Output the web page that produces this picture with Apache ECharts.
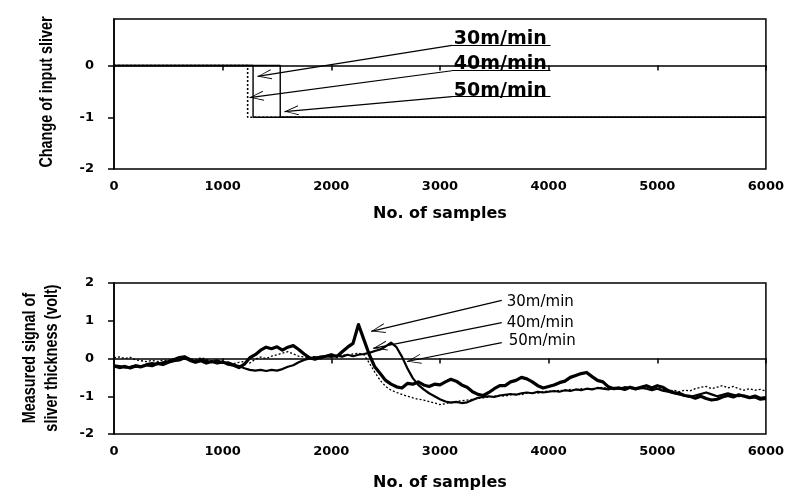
<!DOCTYPE html>
<html lang="en">

<head>
    <meta charset="UTF-8">
    <title>Sliver input change and measured signal</title>
</head>
<style>
    * {
        padding: 0;
        margin: 0;
    }

    .box {
        width: 787px;
        height: 495px;
    }
</style>

<body>
    <div class="box" id='myChart'></div>
    <script src="https://cdn.jsdelivr.net/npm/echarts@6/dist/echarts.min.js"></script>
    <script>
        // ---- data ----
        const speeds = ["30m/min", "40m/min", "50m/min"];
        const xTicks = [0, 1000, 2000, 3000, 4000, 5000, 6000];

        // upper chart: step change of input sliver
        const stepAt = [1230, 1280, 1530];
        const levelBefore = 0;
        const levelAfter = -1;

        // lower chart: measured signal (volt), one reading every 50 samples
        const sampleStep = 50;
        const signal30 = [
            -0.20, -0.24, -0.21, -0.25, -0.20, -0.22, -0.17, -0.19, -0.13, -0.16,
            -0.10, -0.06, -0.04, 0.02, -0.05, -0.10, -0.06, -0.12, -0.08, -0.12,
            -0.09, -0.15, -0.18, -0.24, -0.15, 0.02, 0.10, 0.22, 0.30, 0.26,
            0.31, 0.22, 0.30, 0.34, 0.24, 0.12, 0.02, -0.02, 0.04, 0.06,
            0.10, 0.05, 0.18, 0.30, 0.40, 0.90, 0.50, 0.10, -0.22, -0.40,
            -0.58, -0.68, -0.75, -0.78, -0.66, -0.68, -0.62, -0.70, -0.74, -0.68,
            -0.70, -0.62, -0.55, -0.60, -0.70, -0.76, -0.88, -0.95, -0.98, -0.90,
            -0.80, -0.72, -0.72, -0.62, -0.58, -0.50, -0.54, -0.62, -0.72, -0.78,
            -0.74, -0.70, -0.64, -0.60, -0.50, -0.45, -0.40, -0.37, -0.48, -0.58,
            -0.62, -0.75, -0.80, -0.78, -0.82, -0.76, -0.80, -0.76, -0.72, -0.78,
            -0.72, -0.76, -0.85, -0.90, -0.92, -0.98, -1.00, -1.05, -1.00, -1.06,
            -1.10, -1.08, -1.02, -0.98, -1.02, -0.96, -1.00, -1.04, -1.02, -1.08,
            -1.06
        ];
        const signal40 = [
            0.02, 0.04, 0.00, 0.03, -0.04, -0.06, -0.08, -0.05, -0.08, -0.04,
            -0.06, 0.00, 0.02, 0.06, 0.00, -0.04, 0.02, -0.02, -0.06, -0.04,
            -0.08, -0.12, -0.14, -0.10, -0.08, -0.12, -0.02, 0.04, 0.00, 0.06,
            0.10, 0.14, 0.18, 0.12, 0.06, 0.04, 0.00, 0.06, 0.02, 0.08,
            0.04, 0.06, 0.10, 0.08, 0.12, 0.14, 0.10, -0.12, -0.36, -0.58,
            -0.74, -0.84, -0.90, -0.95, -1.00, -1.04, -1.08, -1.10, -1.14, -1.18,
            -1.22, -1.20, -1.16, -1.14, -1.12, -1.10, -1.08, -1.06, -1.04, -1.02,
            -1.00, -0.98, -1.00, -0.96, -0.94, -0.96, -0.92, -0.90, -0.92, -0.88,
            -0.86, -0.88, -0.84, -0.86, -0.82, -0.84, -0.80, -0.82, -0.80, -0.78,
            -0.76, -0.80, -0.78, -0.82, -0.80, -0.76, -0.78, -0.80, -0.76, -0.80,
            -0.78, -0.82, -0.86, -0.84, -0.88, -0.84, -0.86, -0.80, -0.76, -0.74,
            -0.80, -0.76, -0.72, -0.78, -0.74, -0.80, -0.84, -0.80, -0.84, -0.82,
            -0.86
        ];
        const signal50 = [
            -0.18, -0.20, -0.24, -0.22, -0.18, -0.21, -0.15, -0.12, -0.15, -0.10,
            -0.07, -0.02, 0.04, 0.06, -0.02, -0.08, -0.02, -0.06, -0.10, -0.05,
            -0.12, -0.10, -0.16, -0.20, -0.26, -0.30, -0.32, -0.30, -0.33, -0.30,
            -0.32, -0.28, -0.22, -0.18, -0.10, -0.04, 0.00, 0.04, 0.00, 0.06,
            0.04, 0.08, 0.05, 0.10, 0.06, 0.10, 0.12, 0.15, 0.20, 0.24,
            0.32, 0.42, 0.30, 0.05, -0.26, -0.52, -0.70, -0.82, -0.92, -1.00,
            -1.08, -1.14, -1.17, -1.15, -1.18, -1.16, -1.10, -1.04, -1.02, -1.00,
            -1.02, -0.98, -0.96, -0.94, -0.96, -0.92, -0.90, -0.92, -0.88, -0.90,
            -0.88, -0.86, -0.88, -0.84, -0.86, -0.82, -0.84, -0.80, -0.82, -0.78,
            -0.80, -0.82, -0.78, -0.80, -0.76, -0.78, -0.82, -0.78, -0.80, -0.84,
            -0.80, -0.85, -0.88, -0.92, -0.95, -0.98, -1.02, -0.98, -0.94, -0.90,
            -0.95, -1.00, -0.96, -0.92, -0.96, -1.00, -0.98, -1.02, -0.98, -1.04,
            -1.02
        ];

        // annotation arrows, in data units: label anchor, arrow start, arrow tip
        const topLabelAt = [[3128, 0.33], [3128, -0.16], [3128, -0.67]];
        const topArrowFrom = [[3110, 0.39], [3110, -0.10], [3110, -0.60]];
        const topArrowTo = [[1321, -0.21], [1248, -0.62], [1569, -0.89]];
        const topUnderlineEnd = 4018;
        const lowLabelAt = [[3615, 1.49], [3615, 0.95], [3633, 0.45]];
        const lowArrowFrom = [[3569, 1.54], [3569, 0.95], [3569, 0.42]];
        const lowArrowTo = [[2367, 0.72], [2385, 0.27], [2697, -0.08]];

        // ---- chart ----
        const tickFont = { color: "#000", fontFamily: "DejaVu Sans", fontSize: 13, fontWeight: "bold" };
        const titleFont = { color: "#000", fontFamily: "DejaVu Sans", fontSize: 16, fontWeight: "bold" };
        // open V arrow head, tip at the centre of its box
        const arrowHead = "path://M5,0L5.01,0L5,0.01Z M5,14L10,28L9,28L5,16L1,28L0,28Z";

        function xAxisFor(gridIndex, gap) {
            return {
                type: "value",
                gridIndex: gridIndex,
                min: xTicks[0],
                max: xTicks[xTicks.length - 1],
                interval: xTicks[1] - xTicks[0],
                name: "No. of samples",
                nameLocation: "middle",
                nameGap: gap,
                nameTextStyle: titleFont,
                axisLine: { lineStyle: { color: "#000", width: 1.5 } },
                axisTick: { length: 5, lineStyle: { color: "#000", width: 1.5 } },
                axisLabel: Object.assign({ margin: 11, formatter: function (v) { return String(v); } }, tickFont),
                splitLine: { show: false }
            };
        }

        function yAxisFor(gridIndex, min, max, hideMax) {
            return {
                type: "value",
                gridIndex: gridIndex,
                min: min,
                max: max,
                interval: 1,
                axisLine: { show: true, lineStyle: { color: "#000", width: 1.5 } },
                axisTick: { show: true, length: 6, lineStyle: { color: "#000", width: 1.5 } },
                axisLabel: Object.assign({ margin: 20, showMaxLabel: !hideMax }, tickFont),
                splitLine: { show: false }
            };
        }

        // narrow bold y titles (no condensed font installed, so squeeze a normal one)
        function yTitle(text, x, y) {
            return {
                type: "text",
                x: x,
                y: y,
                rotation: Math.PI / 2,
                scaleX: 0.8,
                silent: true,
                style: {
                    text: text,
                    fill: "#000",
                    font: "bold 18px 'Liberation Sans'",
                    lineHeight: 22,
                    align: "center",
                    verticalAlign: "middle"
                }
            };
        }

        function arrows(from, to, labels, under, fontStyle) {
            const lines = [];
            from.forEach(function (p, i) {
                lines.push([{ coord: p, symbol: "none" }, { coord: to[i], symbol: arrowHead }]);
                if (under) {
                    lines.push([{ coord: p, symbol: "none" }, { coord: [under, p[1]], symbol: "none" }]);
                }
            });
            return {
                markLine: {
                    silent: true,
                    animation: false,
                    symbolSize: [10, 28],
                    label: { show: false },
                    lineStyle: { color: "#000", width: 1.2, type: "solid" },
                    emphasis: { disabled: true },
                    data: lines
                },
                markPoint: {
                    silent: true,
                    animation: false,
                    symbol: "circle",
                    symbolSize: 0,
                    data: labels.map(function (p, i) {
                        return {
                            coord: p,
                            label: Object.assign({
                                show: true,
                                formatter: speeds[i],
                                position: [0, 0],
                                align: "left",
                                verticalAlign: under ? "bottom" : "middle"
                            }, fontStyle)
                        };
                    })
                }
            };
        }

        function stepSeries(i) {
            const s = stepAt[i];
            const styles = [
                { color: "#000", width: 1.6, type: [2, 2] },
                { color: "#000", width: 1.4, type: "solid" },
                { color: "#000", width: 1.4, type: "solid" }
            ];
            const series = {
                name: speeds[i],
                type: "line",
                xAxisIndex: 0,
                yAxisIndex: 0,
                showSymbol: false,
                symbol: "none",
                lineStyle: styles[i],
                data: [[xTicks[0], levelBefore], [s, levelBefore], [s, levelAfter], [xTicks[xTicks.length - 1], levelAfter]]
            };
            if (i === 0) {
                Object.assign(series, arrows(topArrowFrom, topArrowTo, topLabelAt, topUnderlineEnd,
                    { color: "#000", fontFamily: "DejaVu Sans", fontSize: 19, fontWeight: "bold" }));
            }
            return series;
        }

        function signalSeries(name, values, style) {
            return {
                name: name,
                type: "line",
                xAxisIndex: 1,
                yAxisIndex: 1,
                showSymbol: false,
                symbol: "none",
                lineStyle: style,
                data: values.map(function (v, i) { return [i * sampleStep, v]; })
            };
        }

        const lower30 = signalSeries(speeds[0], signal30, { color: "#000", width: 3.2, join: "round" });
        Object.assign(lower30, arrows(lowArrowFrom, lowArrowTo, lowLabelAt, null,
            { color: "#000", fontFamily: "DejaVu Sans", fontSize: 15 }));

        let myChart = echarts.init(document.getElementById('myChart'));
        let option = {
            backgroundColor: "#fff",
            animation: false,
            grid: [{
                    left: 114,
                    top: 19,
                    width: 653,
                    height: 150,
                    show: true,
                    borderColor: "#000",
                    borderWidth: 1.5
                },
                {
                    left: 114,
                    top: 283,
                    width: 653,
                    height: 151,
                    show: true,
                    borderColor: "#000",
                    borderWidth: 1.5
                }
            ],
            xAxis: [xAxisFor(0, 37), xAxisFor(1, 41)],
            yAxis: [yAxisFor(0, -2, 0.9, true), yAxisFor(1, -2, 2, false)],
            graphic: [
                yTitle("Change of input sliver", 47, 92),
                yTitle("Measured signal of\nsliver thickness (volt)", 41, 358)
            ],
            series: [
                stepSeries(0),
                stepSeries(1),
                stepSeries(2),
                lower30,
                signalSeries(speeds[2], signal50, { color: "#000", width: 2.2, join: "round" }),
                signalSeries(speeds[1], signal40, { color: "#000", width: 1.3, type: [2, 2] })
            ]
        };
        myChart.setOption(option, true);
    </script>

</body>

</html>
